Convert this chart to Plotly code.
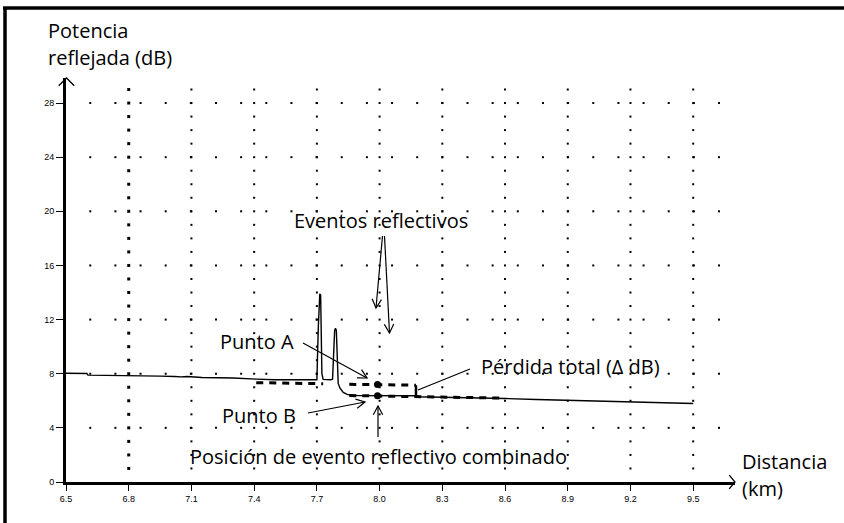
import math
import plotly.graph_objects as go

# OTDR trace: distance (km) and reflected power (dB)
dist_km = [6.50, 6.60, 6.605, 6.80, 6.82, 6.84, 6.87, 6.95, 7.02, 7.05, 7.08, 7.10,
           7.15, 7.30, 7.38, 7.39, 7.41, 7.50, 7.60, 7.69,
           7.700, 7.707, 7.711, 7.714, 7.718, 7.721, 7.724, 7.730, 7.765,
           7.775, 7.780, 7.785, 7.789, 7.793, 7.797, 7.800,
           7.802, 7.810, 7.826, 7.845, 7.860, 7.900, 8.000, 8.170, 8.180,
           8.30, 8.45, 8.60, 8.75, 8.90, 9.05, 9.20, 9.35, 9.50]
power_db = [8.03, 8.02, 7.90, 7.88, 7.84, 7.88, 7.83, 7.82, 7.80, 7.77, 7.80, 7.78,
            7.72, 7.68, 7.66, 7.62, 7.60, 7.56, 7.53, 7.52,
            7.55, 11.5, 13.6, 13.9, 13.8, 11.0, 8.0, 7.58, 7.55,
            7.60, 10.0, 11.2, 11.36, 11.2, 9.5, 7.5,
            7.28, 6.95, 6.62, 6.47, 6.42, 6.38, 6.37, 6.37, 6.30,
            6.27, 6.22, 6.17, 6.10, 6.05, 6.00, 5.93, 5.87, 5.80]

# least-squares fits before / after the combined event
fit_before_x = [7.41, 7.73, None, 7.855, 8.174]
fit_before_y = [7.34, 7.26, None, 7.22, 7.15]
fit_after_x = [7.855, 8.59]
fit_after_y = [6.39, 6.20]
step_x = [8.174, 8.174]
step_y = [7.15, 6.30]

# Punto A / Punto B
point_x = [7.99, 7.99]
point_y = [7.21, 6.37]

x_ticks = [6.5, 6.8, 7.1, 7.4, 7.7, 8.0, 8.3, 8.6, 8.9, 9.2, 9.5]
y_ticks = [0, 4, 8, 12, 16, 20, 24, 28]

# plot area in pixels
L, T, W, H = 66, 78, 669, 404


def pp(px, py):
    return (px - L) / W, (T + H - py) / H


def seg(x0, y0, x1, y1, width=1.2):
    a, b = pp(x0, y0)
    c, d = pp(x1, y1)
    return dict(type="line", xref="paper", yref="paper", x0=a, y0=b, x1=c, y1=d,
                line=dict(color="black", width=width))


def chevron(x0, y0, x1, y1, size=10, half=28, width=1.2):
    ang = math.atan2(y0 - y1, x0 - x1)
    pts = []
    for s in (1, -1):
        t = ang + s * math.radians(half)
        pts.append((x1 + size * math.cos(t), y1 + size * math.sin(t)))
    p1, tip, p2 = pp(*pts[0]), pp(x1, y1), pp(*pts[1])
    path = "M%f,%f L%f,%f L%f,%f" % (p1[0], p1[1], tip[0], tip[1], p2[0], p2[1])
    return dict(type="path", xref="paper", yref="paper", path=path,
                line=dict(color="black", width=width))


def arrow(x0, y0, x1, y1):
    return [seg(x0, y0, x1, y1), chevron(x0, y0, x1, y1)]


fig = go.Figure()

# dotted grid
grid_cols = x_ticks[1:]
for gx in grid_cols:
    fig.add_trace(go.Scatter(x=[gx] * 29, y=list(range(1, 30)), mode="markers",
                             marker=dict(symbol="square", size=3 if gx == 6.8 else 2, color="black"),
                             hoverinfo="skip", showlegend=False))
row_x = [6.616 + 0.1203 * k for k in range(26)]
for gy in y_ticks[1:]:
    fig.add_trace(go.Scatter(x=row_x, y=[gy] * len(row_x), mode="markers",
                             marker=dict(symbol="square", size=2, color="black"),
                             hoverinfo="skip", showlegend=False))

fig.add_trace(go.Scatter(x=fit_before_x, y=fit_before_y, mode="lines",
                         line=dict(color="black", width=3, dash="7px,6px"), showlegend=False))
fig.add_trace(go.Scatter(x=fit_after_x, y=fit_after_y, mode="lines",
                         line=dict(color="black", width=3, dash="7px,6px"), showlegend=False))
fig.add_trace(go.Scatter(x=step_x, y=step_y, mode="lines",
                         line=dict(color="black", width=2.5), showlegend=False))
fig.add_trace(go.Scatter(x=dist_km, y=power_db, mode="lines",
                         line=dict(color="black", width=1.4), showlegend=False))
fig.add_trace(go.Scatter(x=point_x, y=point_y, mode="markers",
                         marker=dict(color="black", size=7), showlegend=False))

shapes = []
# frame
shapes.append(seg(5, 8, 5, 523, width=3.5))
shapes.append(seg(3, 8, 844, 8, width=3.5))
# axis arrow heads
shapes.append(chevron(66.5, 100, 66.5, 78, size=11, half=45, width=1.3))
shapes.append(chevron(700, 482, 735, 482, size=9, half=50, width=1.3))
# callout arrows
shapes += arrow(382.5, 236, 376, 308)
shapes += arrow(384.5, 236, 389.5, 333)
shapes += arrow(303, 343, 367, 378)
shapes += arrow(308, 413, 365, 402)
shapes.append(seg(470, 369, 418, 390))
shapes += arrow(378, 437, 378, 406)

txt_font = dict(family="Open Sans", size=20, color="black")
labels = [
    ("Potencia", 46, 31, "left"),
    ("reflejada (dB)", 46, 58, "left"),
    ("Eventos reflectivos", 381, 220, "center"),
    ("Punto A", 257, 341, "center"),
    ("Punto B", 259, 415, "center"),
    ("Pérdida total (Δ dB)", 570, 366, "center"),
    ("Posición de evento reflectivo combinado", 378, 456, "center"),
    ("Distancia", 740, 461, "left"),
    ("(km)", 740, 488, "left"),
]
annotations = []
for text, px, py, anchor in labels:
    ax, ay = pp(px, py)
    annotations.append(dict(text=text, x=ax, y=ay, xref="paper", yref="paper",
                            xanchor=anchor, yanchor="middle", showarrow=False, font=txt_font))

fig.update_layout(
    width=844, height=523,
    margin=dict(l=L, r=844 - L - W, t=T, b=523 - T - H),
    paper_bgcolor="white", plot_bgcolor="white",
    shapes=shapes, annotations=annotations,
    xaxis=dict(range=[6.5, 9.7], tickvals=x_ticks, tickformat=".1f",
               showgrid=False, zeroline=False, showline=True, linewidth=3, linecolor="black",
               ticks="outside", ticklen=6, tickwidth=1, tickcolor="black",
               tickfont=dict(family="Liberation Sans", size=9, color="black")),
    yaxis=dict(range=[0, 29.85], tickvals=y_ticks,
               showgrid=False, zeroline=False, showline=True, linewidth=3, linecolor="black",
               ticks="outside", ticklen=7, tickwidth=1, tickcolor="black",
               tickfont=dict(family="Liberation Sans", size=9, color="black")),
)

# the page body has a default 8px margin; drop it so the figure sits at the window origin
fig.write_html("out.html", config={"displayModeBar": False},
               post_script="document.body.style.margin='0';")
